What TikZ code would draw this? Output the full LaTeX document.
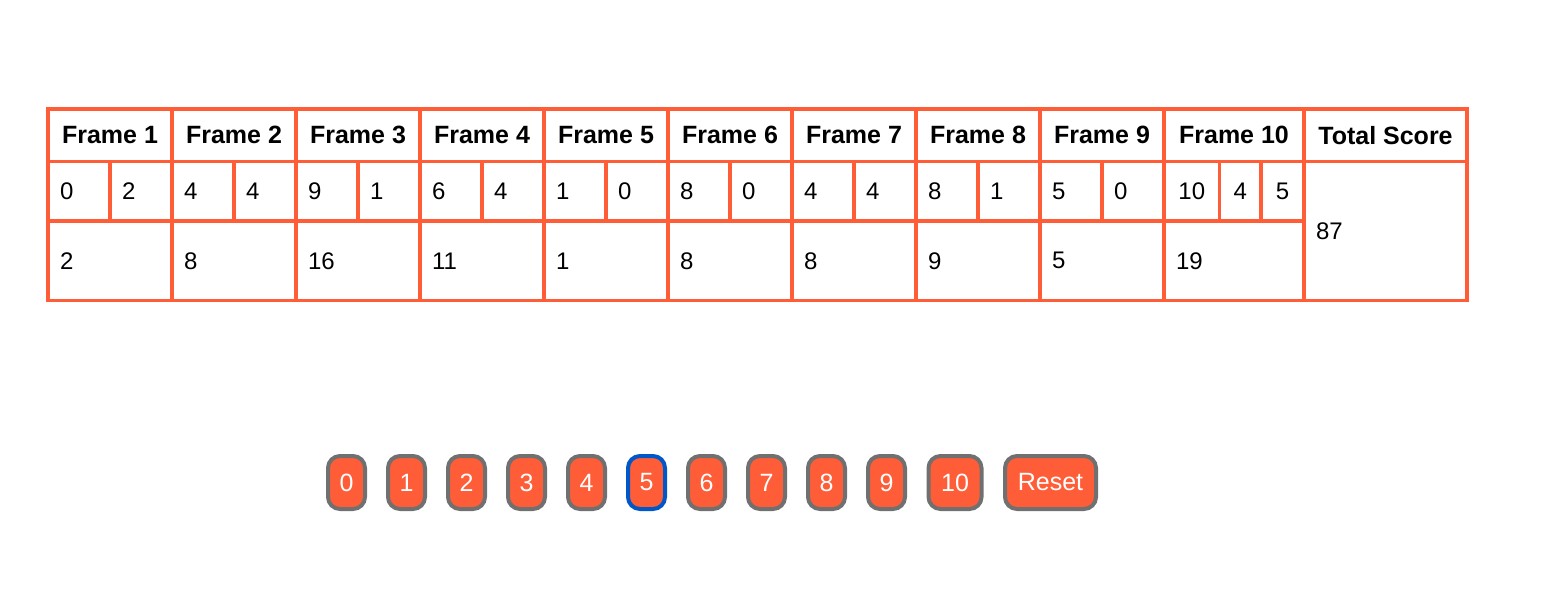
\documentclass[tikz,border=0pt]{standalone}
\usepackage{fontspec}
\setmainfont{Liberation Sans}
\usetikzlibrary{positioning}
\definecolor{tomate}{RGB}{255,93,56}
\definecolor{grau}{RGB}{112,112,112}
\definecolor{blau}{RGB}{0,87,199}

\begin{document}
\begin{tikzpicture}[x=1pt, y=-1pt,
                    cell/.style = {
                      draw=tomate, line width=3.5pt,
                      anchor=north west, outer sep=0pt,
                      inner ysep=0pt, inner xsep=12pt,
                      align=left,
                      font=\fontsize{24}{28}\selectfont
                    },
                    head/.style = {
                      cell, inner xsep=0pt, align=center,
                      minimum height=52.5pt,
                      font=\bfseries\fontsize{25}{29}\selectfont
                    },
                    ball/.style = {
                      cell, minimum height=59.5pt
                    },
                    score/.style = {
                      cell, minimum height=79.5pt
                    },
                    button/.style = {
                      fill=tomate, draw=grau, line width=4pt,
                      rounded corners=12pt, text=white,
                      minimum width=37pt, minimum height=53pt,
                      inner xsep=11pt, inner ysep=0pt,
                      font=\fontsize{25}{29}\selectfont
                    }]
    \useasboundingbox (0,0) rectangle (1544,592);

    % frames 1 to 9
    \foreach \i/\a/\b/\s in {1/0/2/2, 2/4/4/8, 3/9/1/16, 4/6/4/11, 5/1/0/1,
                             6/8/0/8, 7/4/4/8, 8/8/1/9, 9/5/0/5} {
      \pgfmathsetmacro{\x}{48+124*(\i-1)}
      \node(head\i)[head, minimum width=124pt] at (\x,109) {Frame \i};
      \node(ballA\i)[ball, text width=38pt] at (\x,161.5) {\a};
      \node(ballB\i)[ball, text width=38pt] at (\x+62,161.5) {\b};
      \node(score\i)[score, text width=100pt] at (\x,221) {\s};
    }

    % frame 10 and total
    \node(head10)[head, minimum width=140pt] at (1164,109) {Frame 10};
    \node(ballA10)[ball, inner xsep=0pt, align=center, minimum width=55.5pt] at (1164,161.5) {10};
    \node(ballB10)[ball, inner xsep=0pt, align=center, minimum width=41.5pt] at (1219.5,161.5) {4};
    \node(ballC10)[ball, inner xsep=0pt, align=center, minimum width=43pt] at (1261,161.5) {5};
    \node(score10)[score, text width=116pt] at (1164,221) {19};
    \node(headT)[head, minimum width=163pt] at (1304,109) {Total Score};
    \node(total)[cell, minimum height=139pt, text width=139pt] at (1304,161.5) {87};

    % buttons
    \foreach \n in {0,1,2,3,4,6,7,8,9}
      \node(key\n)[button] at (346.5+60*\n,482.5) {\n};
    \node(key5)[button, draw=blau] at (646.5,482.5) {5};
    \node(key10)[button, minimum width=53pt] at (955,482.5) {10};
    \node(reset)[button, minimum width=91pt] at (1050.5,482.5) {Reset};
  \end{tikzpicture}
\end{document}
